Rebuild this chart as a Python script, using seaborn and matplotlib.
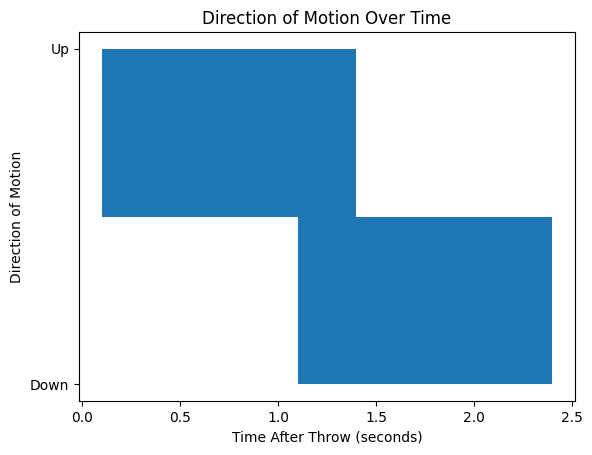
import matplotlib
matplotlib.use("Agg")
import matplotlib.pyplot as plt
import seaborn as sns
import numpy as np

# Data
directions = ["Up", "Down"]
start_times = [0.1, 1.1]
end_times = [1.4, 2.4]
bar_bottoms = [0.5, 0.0]
bar_tops = [1.0, 0.5]
tick_labels = ["Down", "Up"]
tick_values = [0, 1]

color = sns.color_palette("tab10")[0]

fig = plt.figure(figsize=(5.92, 4.55), dpi=100)
ax = fig.add_axes([79 / 592, 1 - 401 / 455, (575 - 79) / 592, (401 - 32) / 455])

starts = np.array(start_times)
ends = np.array(end_times)
ax.bar(starts, np.array(bar_tops) - np.array(bar_bottoms), width=ends - starts,
       bottom=bar_bottoms, align="edge", color=color)

ax.set_ylim(-0.05, 1.05)
ax.set_yticks(tick_values)
ax.set_yticklabels(tick_labels)
ax.set_title("Direction of Motion Over Time")
ax.set_xlabel("Time After Throw (seconds)")
ax.set_ylabel("Direction of Motion")

fig.savefig("out.png", dpi=100)
